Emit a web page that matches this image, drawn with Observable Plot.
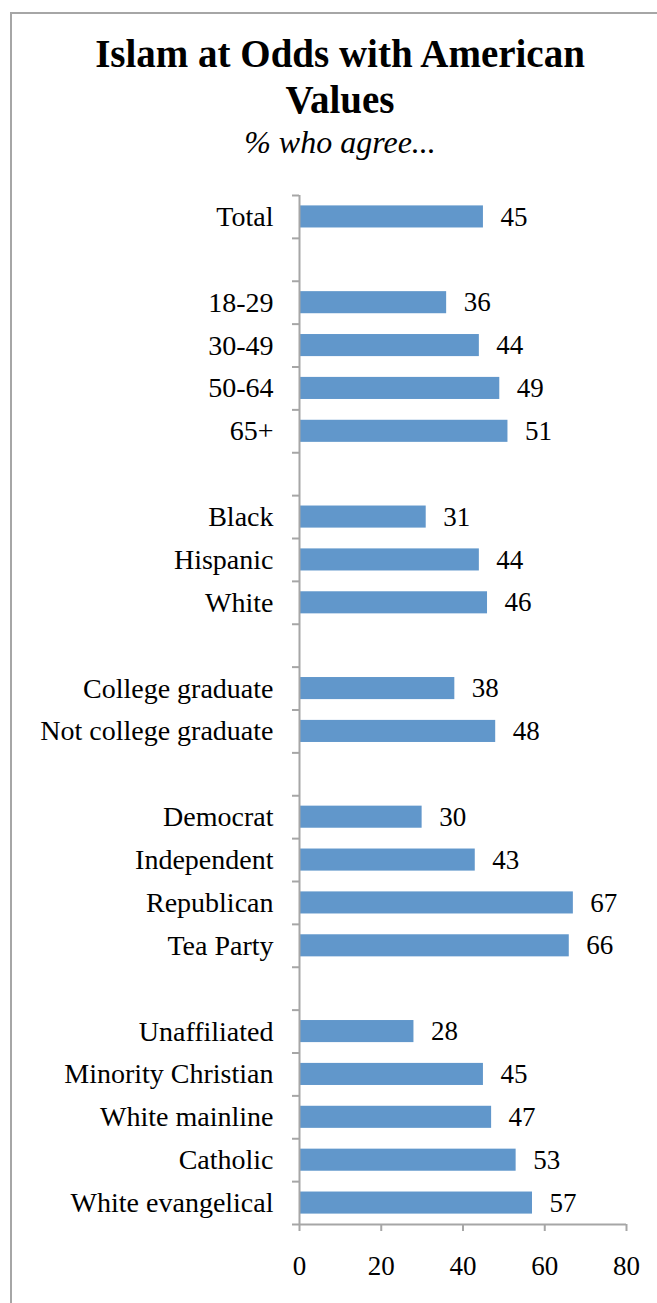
<!DOCTYPE html>
<html>
<head>
<meta charset="utf-8">
<script src="https://cdn.jsdelivr.net/npm/d3@7"></script>
<script src="https://cdn.jsdelivr.net/npm/@observablehq/plot@0.6"></script>
<style>
  html, body { margin: 0; padding: 0; background: #fff; }
  body { width: 657px; height: 1303px; overflow: hidden; position: relative; font-family: "Liberation Serif", serif; color: #000; }
  #frame { position: absolute; left: 10px; top: 12px; width: 1000px; height: 2000px; border-left: 2px solid #a6a6a6; border-top: 2px solid #a6a6a6; pointer-events: none; }
  #head { position: relative; height: 180px; }
  .t { position: absolute; left: 23px; width: 634px; text-align: center; white-space: nowrap; }
  .title { font-weight: bold; font-size: 39px; line-height: 46px; height: 46px; }
  .sub { font-style: italic; font-size: 32px; line-height: 40px; height: 40px; top: 122px; }
  #chart svg { display: block; }
</style>
</head>
<body>
<div id="frame"></div>
<div id="head">
  <div class="t title" style="top:31px">Islam at Odds with American</div>
  <div class="t title" style="top:77px">Values</div>
  <div class="t sub">% who agree...</div>
</div>
<div id="chart"></div>
<script>
const categories = ["Total", "_1", "18-29", "30-49", "50-64", "65+", "_2", "Black", "Hispanic", "White", "_3",
  "College graduate", "Not college graduate", "_4", "Democrat", "Independent", "Republican", "Tea Party", "_5",
  "Unaffiliated", "Minority Christian", "White mainline", "Catholic", "White evangelical"];
const values = [45, null, 36, 44, 49, 51, null, 31, 44, 46, null, 38, 48, null, 30, 43, 67, 66, null, 28, 45, 47, 53, 57];
const xTicks = [0, 20, 40, 60, 80];

const rows = categories.map((c, i) => ({category: c, value: values[i]}));
const bars = rows.filter(d => d.value != null);

const W = 657, H = 1123, mT = 15, mB = 79, mL = 299, mR = 31;
const step = (H - mT - mB) / categories.length;
const axisColor = "#a6a6a6";

const chart = Plot.plot({
  width: W, height: H,
  marginTop: mT, marginBottom: mB, marginLeft: mL, marginRight: mR,
  x: {domain: [0, 80], axis: null},
  y: {domain: categories, padding: 0, round: false, axis: null},
  style: {fontFamily: "'Liberation Serif', serif", color: "#000", background: "transparent", overflow: "visible"},
  marks: [
    Plot.barX(bars, {x: "value", y: "category", fill: "#6197CB", insetTop: 10.4, insetBottom: 10.4}),
    Plot.text(bars, {x: "value", y: "category", text: d => String(d.value), dx: 17, textAnchor: "start", fontSize: 27, fill: "#000"}),
    Plot.ruleX([0], {stroke: axisColor, strokeWidth: 2}),
    Plot.ruleY(categories, {y: d => d, x1: 0, x2: 0, insetLeft: -7, dy: -step / 2, stroke: axisColor, strokeWidth: 2}),
    Plot.ruleY([categories[categories.length - 1]], {y: d => d, x1: 0, x2: 80, insetLeft: -7, dy: step / 2, stroke: axisColor, strokeWidth: 2}),
    Plot.axisX({ticks: xTicks, tickSize: 7, tickPadding: 24, fontSize: 27, stroke: axisColor, strokeWidth: 2, label: null}),
    Plot.axisY({tickSize: 0, tickPadding: 26, fontSize: 28, tickFormat: d => d.startsWith("_") ? "" : d, label: null})
  ]
});
document.getElementById("chart").appendChild(chart);
</script>
</body>
</html>
